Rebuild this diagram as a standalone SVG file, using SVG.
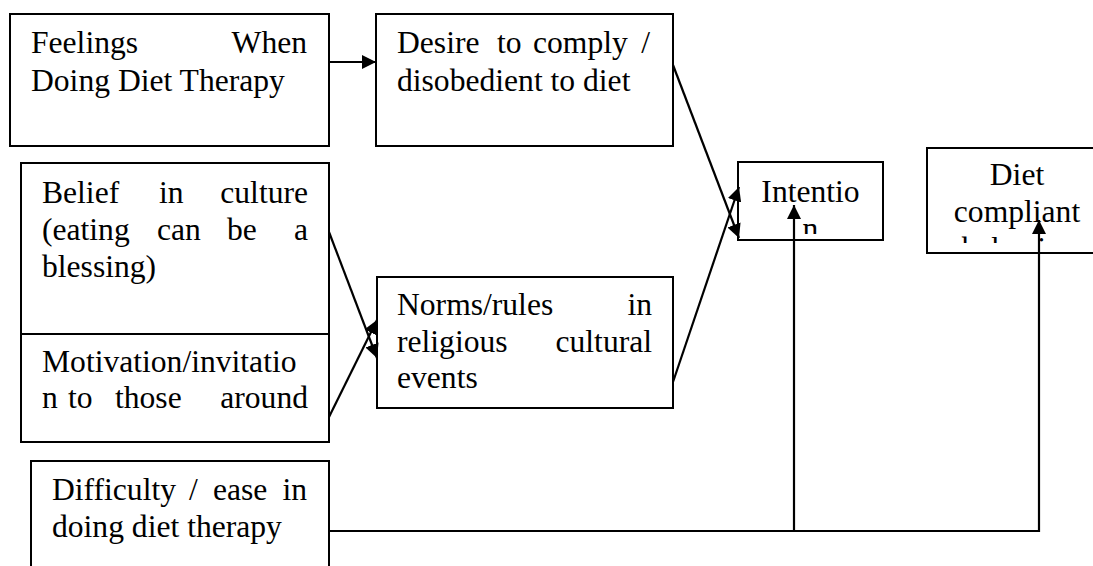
<svg xmlns="http://www.w3.org/2000/svg" width="1093" height="566" viewBox="0 0 1093 566">
<style>
.box{fill:#fff;stroke:#000;stroke-width:2}
.t{font-family:"Liberation Serif","Times New Roman",serif;font-size:31.6px;fill:#000}
.c{text-anchor:middle}
.e{text-anchor:end}
.ln{fill:none;stroke:#000;stroke-width:2.2}
</style>
<defs>
<marker id="ah" markerUnits="userSpaceOnUse" markerWidth="15" markerHeight="14" refX="14" refY="7" orient="auto" viewBox="0 0 15 14">
<path d="M0,0 L14,7 L0,14 z" fill="#000"/>
</marker>
<clipPath id="clipInt"><rect x="738" y="162" width="145" height="72"/></clipPath>
<clipPath id="clipDiet"><rect x="927" y="148" width="170" height="95"/></clipPath>
</defs>
<rect width="1093" height="566" fill="#fff"/>
<g id="feelings">
<rect class="box" x="10" y="14" width="319" height="132"/>
<text class="t" x="31" y="53">Feelings</text>
<text class="t e" x="307" y="53">When</text>
<text class="t" x="31" y="91">Doing Diet Therapy</text>
</g>
<g id="desire">
<rect class="box" x="376" y="14" width="297" height="132"/>
<text class="t" x="397" y="53">Desire</text>
<text class="t" x="497" y="53">to</text>
<text class="t" x="533" y="53">comply</text>
<text class="t e" x="650" y="53">/</text>
<text class="t" x="397" y="91">disobedient to diet</text>
</g>
<g id="belief">
<rect class="box" x="21" y="163" width="308" height="171"/>
<text class="t" x="42" y="203">Belief</text>
<text class="t" x="159" y="203">in</text>
<text class="t e" x="308" y="203">culture</text>
<text class="t" x="42" y="240">(eating</text>
<text class="t" x="157" y="240">can</text>
<text class="t" x="227" y="240">be</text>
<text class="t e" x="308" y="240">a</text>
<text class="t" x="42" y="277">blessing)</text>
</g>
<g id="motivation">
<rect class="box" x="21" y="334" width="308" height="108"/>
<text class="t" x="42" y="372">Motivation/invitatio</text>
<text class="t" x="42" y="408">n</text>
<text class="t" x="68" y="408">to</text>
<text class="t" x="115" y="408">those</text>
<text class="t e" x="308" y="408">around</text>
</g>
<g id="norms">
<rect class="box" x="377" y="277" width="296" height="131"/>
<text class="t" x="397" y="315">Norms/rules</text>
<text class="t e" x="652" y="315">in</text>
<text class="t" x="397" y="352">religious</text>
<text class="t e" x="652" y="352">cultural</text>
<text class="t" x="397" y="388">events</text>
</g>
<g id="difficulty">
<rect class="box" x="31" y="461" width="298" height="130"/>
<text class="t" x="52" y="500">Difficulty</text>
<text class="t" x="189" y="500">/</text>
<text class="t" x="213" y="500">ease</text>
<text class="t e" x="307" y="500">in</text>
<text class="t" x="52" y="537">doing diet therapy</text>
</g>
<g id="intention">
<rect class="box" x="738" y="162" width="145" height="78"/>
<g clip-path="url(#clipInt)">
<text class="t c" x="810.5" y="202">Intentio</text>
<text class="t c" x="810.5" y="239">n</text>
</g>
</g>
<g id="diet">
<rect class="box" x="927" y="148" width="175" height="105"/>
<g clip-path="url(#clipDiet)">
<text class="t c" x="1017" y="185">Diet</text>
<text class="t c" x="1017" y="222">compliant</text>
<text class="t c" x="1017" y="259">behavior</text>
</g>
</g>
<g id="connectors">
<line class="ln" x1="329" y1="62" x2="376" y2="62" marker-end="url(#ah)"/>
<line class="ln" x1="673" y1="65" x2="739" y2="238" marker-end="url(#ah)"/>
<line class="ln" x1="673" y1="382" x2="739" y2="187" marker-end="url(#ah)"/>
<line class="ln" x1="329" y1="232" x2="377" y2="358" marker-end="url(#ah)"/>
<line class="ln" x1="329" y1="417" x2="377" y2="320" marker-end="url(#ah)"/>
<path class="ln" d="M329,531 H1039 V220" marker-end="url(#ah)"/>
<path class="ln" d="M794,531 V205" marker-end="url(#ah)"/>
</g>
</svg>
